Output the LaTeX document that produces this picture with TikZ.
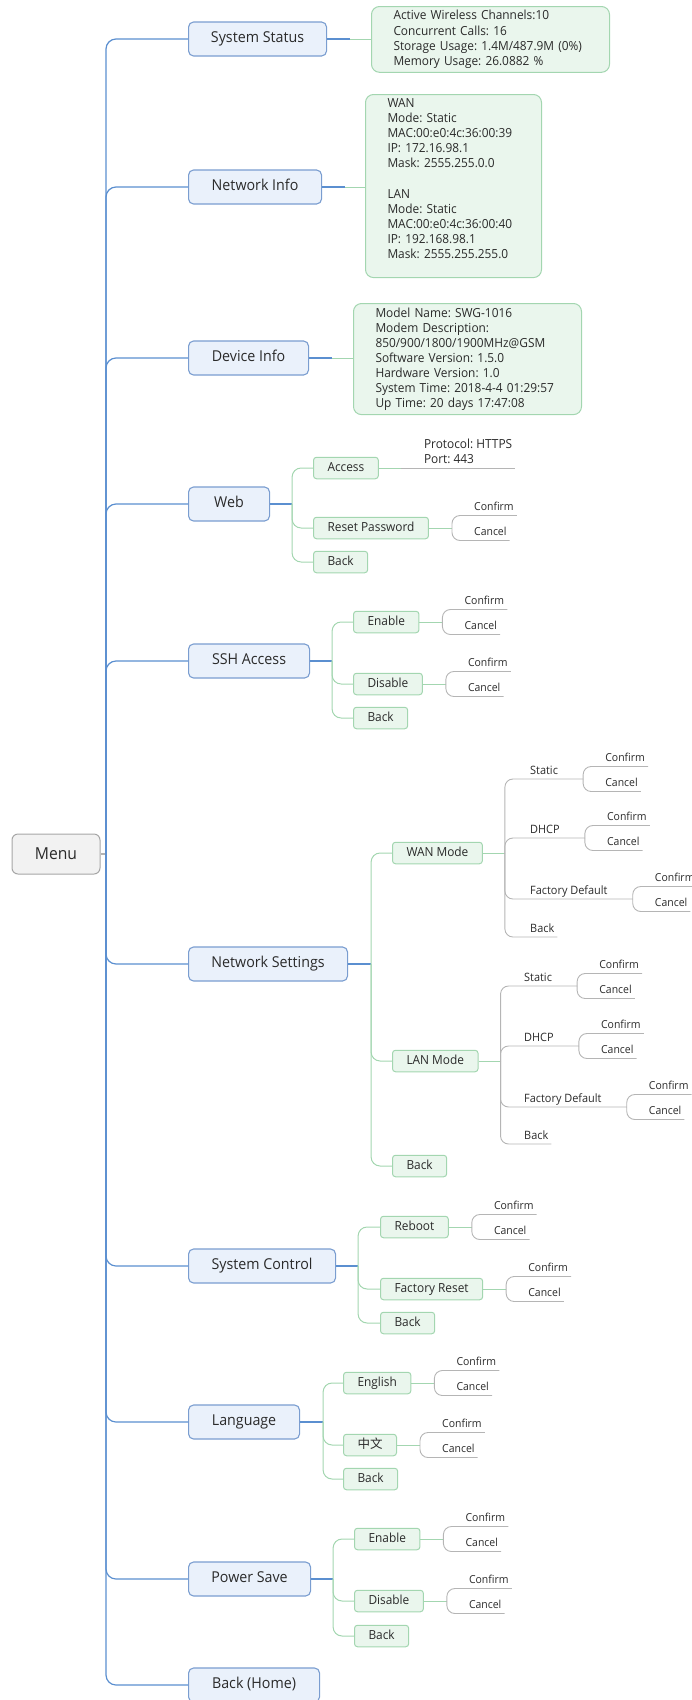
\documentclass[tikz,border=0pt]{standalone}
\usepackage{fontspec}
\setmainfont{Open Sans}[FakeStretch=0.95]
\newfontfamily\cjkfont{Noto Sans CJK SC}
\frenchspacing
\usetikzlibrary{positioning, calc}
\definecolor{mmblue}{HTML}{5B8FD0}
\definecolor{mmbluefill}{HTML}{EAF1FB}
\definecolor{mmblueedge}{HTML}{7A9DD0}
\definecolor{mmgreen}{HTML}{A3D6B0}
\definecolor{mmgreenfill}{HTML}{EAF6ED}
\definecolor{mmgray}{HTML}{B5B5B5}
\definecolor{mmtext}{HTML}{2A2A2A}

\begin{document}
\begin{tikzpicture}[x=1pt, y=-1pt,
    root/.style={draw=gray!70, fill=gray!10, rounded corners=6pt, line width=1pt,
                 minimum width=88pt, minimum height=40pt, text=mmtext,
                 font=\fontsize{16.5}{20}\selectfont},
    topic/.style={draw=mmblueedge, fill=mmbluefill, rounded corners=5pt, line width=1.1pt,
                  minimum height=34pt, inner xsep=22pt, anchor=west, text=mmtext,
                  text height=11pt, text depth=3.5pt, font=\fontsize{15}{18}\selectfont},
    subtopic/.style={draw=mmgreen, fill=mmgreenfill, rounded corners=3pt, line width=1pt,
                     minimum height=21.5pt, inner xsep=14pt, anchor=west, text=mmtext,
                     text height=9pt, text depth=3pt, font=\fontsize{12.5}{15}\selectfont},
    info/.style={draw=mmgreen, fill=mmgreenfill, rounded corners=8pt, line width=1pt,
                 inner xsep=22pt, inner ysep=4pt, anchor=north west, align=left, text=mmtext,
                 font=\fontsize{12.5}{15.1}\selectfont},
    opt/.style={anchor=south west, inner xsep=3pt, inner ysep=2pt, text=mmtext,
                text height=8.5pt, text depth=2.5pt, font=\fontsize{11.5}{14}\selectfont},
    leaf/.style={opt, font=\fontsize{11}{13}\selectfont},
    trunk/.style={draw=mmblue, line width=1.2pt, rounded corners=10pt},
    branch/.style={draw=mmgreen, line width=1pt, rounded corners=9pt},
    twig/.style={draw=mmgray, line width=0.9pt, rounded corners=8pt},
]
    \useasboundingbox (0,0) rectangle (692,1700);

    % Root and main topics
    \node[root] (menu) at (56,854) {Menu};
    \coordinate (mf) at (106,854);
    \node[topic, minimum width=138pt] (status) at (188,39) {System Status};
    \node[topic, minimum width=133pt] (netinfo) at (188,187) {Network Info};
    \node[topic, minimum width=120pt] (devinfo) at (188,358) {Device Info};
    \node[topic, minimum width=81pt] (web) at (188,504) {Web};
    \node[topic, minimum width=121pt] (ssh) at (188,661) {SSH Access};
    \node[topic, minimum width=159pt] (netset) at (188,964) {Network Settings};
    \node[topic, minimum width=147pt] (sysctl) at (188,1266) {System Control};
    \node[topic, minimum width=111pt] (lang) at (188,1422) {Language};
    \node[topic, minimum width=122pt] (psave) at (188,1579) {Power Save};
    \node[topic, minimum width=131pt] (home) at (188,1685) {Back (Home)};

    \draw[trunk, draw=gray!60] (menu) -- (mf);
    \foreach \t in {status, netinfo, devinfo, web, ssh, netset, sysctl, lang, psave, home}
        \draw[trunk] (mf) |- (\t);

    % Info boxes
    \node[info, text width=194pt] (statusbox) at (371,6)
        {Active Wireless Channels:10\\Concurrent Calls: 16\\Storage Usage: 1.4M/487.9M (0\%)\\Memory Usage: 26.0882 \%};
    \node[info, text width=132pt] (netbox) at (365,94)
        {WAN\\Mode: Static\\MAC:00:e0:4c:36:00:39\\IP: 172.16.98.1\\Mask: 2555.255.0.0\\~\\LAN\\Mode: Static\\MAC:00:e0:4c:36:00:40\\IP: 192.168.98.1\\Mask: 2555.255.255.0\\~};
    \node[info, text width=184pt] (devbox) at (353,303)
        {Model Name: SWG-1016\\Modem Description:\\850/900/1800/1900MHz@GSM\\Software Version: 1.5.0\\Hardware Version: 1.0\\System Time: 2018-4-4 01:29:57\\Up Time: 20 days 17:47:08};

    \coordinate (status-f) at ($(status.east)+(23,0)$);
    \coordinate (netinfo-f) at ($(netinfo.east)+(23,0)$);
    \coordinate (devinfo-f) at ($(devinfo.east)+(23,0)$);
    \draw[trunk] (status) -- (status-f);
    \draw[branch] (status-f) -- (statusbox.west |- status-f);
    \draw[trunk] (netinfo) -- (netinfo-f);
    \draw[branch] (netinfo-f) -- (netbox.west |- netinfo-f);
    \draw[trunk] (devinfo) -- (devinfo-f);
    \draw[branch] (devinfo-f) -- (devbox.west |- devinfo-f);

    % Web
    \coordinate (web-f) at ($(web.east)+(22,0)$);
    \node[subtopic] (access) at (313,468) {Access};
    \node[subtopic] (resetpw) at (313,528) {Reset Password};
    \node[subtopic] (webback) at (313,562) {Back};
    \coordinate (access-f) at ($(access.east)+(22,0)$);
    \coordinate (resetpw-f) at ($(resetpw.east)+(23,0)$);
    \node[anchor=south west, align=left, inner xsep=3pt, inner ysep=4.5pt, text=mmtext,
          font=\fontsize{12.5}{15.1}\selectfont] (accessinfo) at ($(access-f)+(20,0)$)
        {Protocol: HTTPS\\Port: 443};
    \draw[trunk] (web) -- (web-f);
    \draw[branch] (web-f) |- (access);
    \draw[branch] (web-f) |- (resetpw);
    \draw[branch] (web-f) |- (webback);
    \draw[branch] (access) -- (access-f);
    \draw[twig] (access-f) -- (accessinfo.south east);
    \draw[branch] (resetpw) -- (resetpw-f);

    % SSH Access
    \coordinate (ssh-f) at ($(ssh.east)+(22,0)$);
    \node[subtopic] (sshen) at (353,622) {Enable};
    \node[subtopic] (sshdis) at (353,684) {Disable};
    \node[subtopic] (sshback) at (353,718) {Back};
    \coordinate (sshen-f) at ($(sshen.east)+(23,0)$);
    \coordinate (sshdis-f) at ($(sshdis.east)+(23,0)$);
    \draw[trunk] (ssh) -- (ssh-f);
    \draw[branch] (ssh-f) |- (sshen);
    \draw[branch] (ssh-f) |- (sshdis);
    \draw[branch] (ssh-f) |- (sshback);
    \draw[branch] (sshen) -- (sshen-f);
    \draw[branch] (sshdis) -- (sshdis-f);

    % Network Settings
    \coordinate (netset-f) at ($(netset.east)+(23,0)$);
    \node[subtopic] (wan) at (392,853) {WAN Mode};
    \node[subtopic] (lan) at (392,1061) {LAN Mode};
    \node[subtopic] (netback) at (392,1166) {Back};
    \draw[trunk] (netset) -- (netset-f);
    \draw[branch] (netset-f) |- (wan);
    \draw[branch] (netset-f) |- (lan);
    \draw[branch] (netset-f) |- (netback);

    \coordinate (wan-f) at ($(wan.east)+(22,0)$);
    \node[opt] (wanst) at (527,779) {Static};
    \node[opt] (wandh) at (527,838) {DHCP};
    \node[opt] (wanfd) at (527,899) {Factory Default};
    \node[opt] (wanback) at (527,937) {Back};
    \coordinate (wanst-f) at ($(wanst.south east)+(22,0)$);
    \coordinate (wandh-f) at ($(wandh.south east)+(22,0)$);
    \coordinate (wanfd-f) at ($(wanfd.south east)+(22,0)$);
    \draw[branch] (wan) -- (wan-f);
    \draw[twig] (wan-f) |- (wanst-f);
    \draw[twig] (wan-f) |- (wandh-f);
    \draw[twig] (wan-f) |- (wanfd-f);
    \draw[twig] (wan-f) |- (wanback.south east);

    \coordinate (lan-f) at ($(lan.east)+(22,0)$);
    \node[opt] (lanst) at (521,986) {Static};
    \node[opt] (landh) at (521,1046) {DHCP};
    \node[opt] (lanfd) at (521,1107) {Factory Default};
    \node[opt] (lanback) at (521,1144) {Back};
    \coordinate (lanst-f) at ($(lanst.south east)+(22,0)$);
    \coordinate (landh-f) at ($(landh.south east)+(22,0)$);
    \coordinate (lanfd-f) at ($(lanfd.south east)+(22,0)$);
    \draw[branch] (lan) -- (lan-f);
    \draw[twig] (lan-f) |- (lanst-f);
    \draw[twig] (lan-f) |- (landh-f);
    \draw[twig] (lan-f) |- (lanfd-f);
    \draw[twig] (lan-f) |- (lanback.south east);

    % System Control
    \coordinate (sysctl-f) at ($(sysctl.east)+(22,0)$);
    \node[subtopic] (reboot) at (380,1227) {Reboot};
    \node[subtopic] (freset) at (380,1289) {Factory Reset};
    \node[subtopic] (sysback) at (380,1323) {Back};
    \coordinate (reboot-f) at ($(reboot.east)+(23,0)$);
    \coordinate (freset-f) at ($(freset.east)+(23,0)$);
    \draw[trunk] (sysctl) -- (sysctl-f);
    \draw[branch] (sysctl-f) |- (reboot);
    \draw[branch] (sysctl-f) |- (freset);
    \draw[branch] (sysctl-f) |- (sysback);
    \draw[branch] (reboot) -- (reboot-f);
    \draw[branch] (freset) -- (freset-f);

    % Language
    \coordinate (lang-f) at ($(lang.east)+(23,0)$);
    \node[subtopic] (en) at (343,1383) {English};
    \node[subtopic] (zh) at (343,1445) {\cjkfont 中文};
    \node[subtopic] (langback) at (343,1479) {Back};
    \coordinate (en-f) at ($(en.east)+(23,0)$);
    \coordinate (zh-f) at ($(zh.east)+(23,0)$);
    \draw[trunk] (lang) -- (lang-f);
    \draw[branch] (lang-f) |- (en);
    \draw[branch] (lang-f) |- (zh);
    \draw[branch] (lang-f) |- (langback);
    \draw[branch] (en) -- (en-f);
    \draw[branch] (zh) -- (zh-f);

    % Power Save
    \coordinate (psave-f) at ($(psave.east)+(22,0)$);
    \node[subtopic] (psen) at (354,1539) {Enable};
    \node[subtopic] (psdis) at (354,1601) {Disable};
    \node[subtopic] (psback) at (354,1636) {Back};
    \coordinate (psen-f) at ($(psen.east)+(23,0)$);
    \coordinate (psdis-f) at ($(psdis.east)+(23,0)$);
    \draw[trunk] (psave) -- (psave-f);
    \draw[branch] (psave-f) |- (psen);
    \draw[branch] (psave-f) |- (psdis);
    \draw[branch] (psave-f) |- (psback);
    \draw[branch] (psen) -- (psen-f);
    \draw[branch] (psdis) -- (psdis-f);

    % Confirm / Cancel pairs
    \foreach \f in {resetpw-f, sshen-f, sshdis-f, wanst-f, wandh-f, wanfd-f, lanst-f, landh-f,
                    lanfd-f, reboot-f, freset-f, en-f, zh-f, psen-f, psdis-f} {
        \node[leaf] (\f-ok) at ($(\f)+(19,-12.5)$) {Confirm};
        \node[leaf] (\f-no) at ($(\f)+(19,12.5)$) {Cancel};
        \draw[twig] (\f) |- (\f-ok.south east);
        \draw[twig] (\f) |- (\f-no.south east);
    }
\end{tikzpicture}
\end{document}
